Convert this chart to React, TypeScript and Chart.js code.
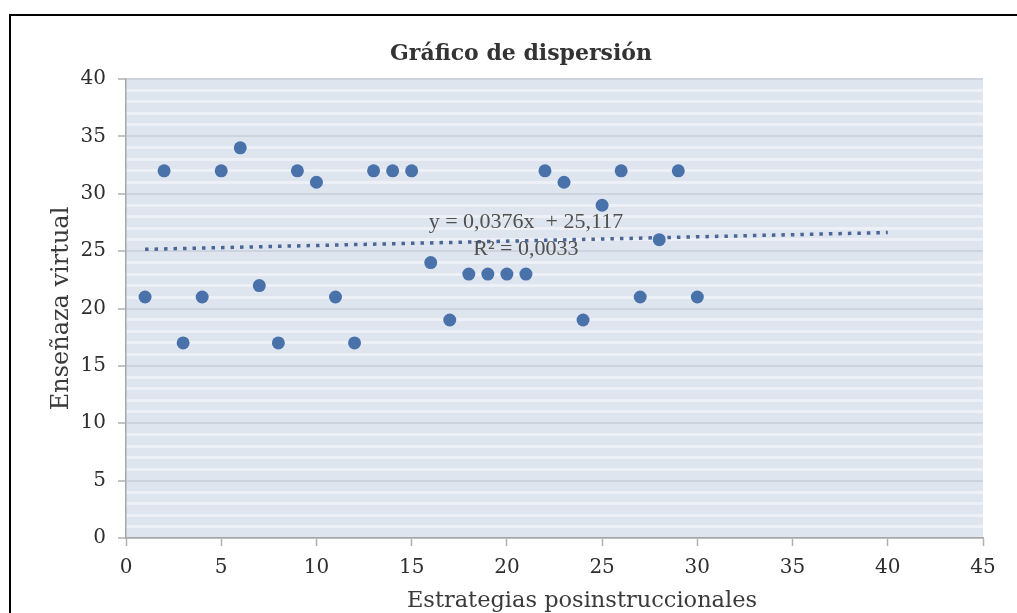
import React, { useEffect, useRef } from "react";
import { Chart, registerables } from "chart.js";

Chart.register(...registerables);

const xValues = [1, 2, 3, 4, 5, 6, 7, 8, 9, 10, 11, 12, 13, 14, 15, 16, 17, 18, 19, 20, 21, 22, 23, 24, 25, 26, 27, 28, 29, 30];
const yValues = [21, 32, 17, 21, 32, 34, 22, 17, 32, 31, 21, 17, 32, 32, 32, 24, 19, 23, 23, 23, 23, 32, 31, 19, 29, 32, 21, 26, 32, 21];
const trendX = [1, 40];
const trendY = [25.155, 26.621];
const chartTitle = "Gráfico de dispersión";
const xTitle = "Estrategias posinstruccionales";
const yTitle = "Enseñaza virtual";
const equationLines = ["y = 0,0376x  + 25,117", "R² = 0,0033"];

export default function App() {
  const ref = useRef<HTMLCanvasElement | null>(null);
  useEffect(() => {
    const canvas = ref.current;
    if (!canvas) return;
    const deco = {
      id: "deco",
      beforeDraw(chart: any) {
        const { ctx, chartArea } = chart;
        ctx.save();
        ctx.fillStyle = "#ffffff";
        ctx.fillRect(0, 0, chart.width, chart.height);
        ctx.fillStyle = "#dfe5ef";
        ctx.fillRect(chartArea.left, chartArea.top, chartArea.right - chartArea.left, chartArea.bottom - chartArea.top);
        ctx.strokeStyle = "#000000";
        ctx.lineWidth = 2;
        ctx.beginPath();
        ctx.moveTo(10, chart.height + 5);
        ctx.lineTo(10, 15);
        ctx.lineTo(chart.width + 5, 15);
        ctx.stroke();
        ctx.restore();
      },
      afterDraw(chart: any) {
        const { ctx, chartArea, scales } = chart;
        ctx.save();
        ctx.fillStyle = "#333333";
        ctx.textAlign = "center";
        ctx.textBaseline = "middle";
        ctx.font = "bold 22px 'DejaVu Serif'";
        ctx.fillText(chartTitle, 521, 54);
        ctx.fillStyle = "#3a3a3a";
        ctx.font = "22.5px 'DejaVu Serif'";
        ctx.fillText(xTitle, 582, 601);
        ctx.save();
        ctx.translate(62, (chartArea.top + chartArea.bottom) / 2);
        ctx.rotate(-Math.PI / 2);
        ctx.font = "24px 'DejaVu Serif'";
        ctx.fillText(yTitle, 0, 0);
        ctx.restore();
        ctx.fillStyle = "#505050";
        ctx.font = "22px 'Liberation Serif'";
        const ex = scales.x.getPixelForValue(21.0);
        ctx.fillText(equationLines[0], ex, scales.y.getPixelForValue(27.5));
        ctx.fillText(equationLines[1], ex, scales.y.getPixelForValue(25.2));
        ctx.restore();
      },
    };
    const chart = new Chart(canvas, {
      type: "scatter",
      data: {
        datasets: [
          {
            type: "scatter",
            data: xValues.map((x, i) => ({ x, y: yValues[i] })),
            backgroundColor: "#4a72aa",
            borderWidth: 0,
            pointRadius: 6.5,
            order: 1,
          },
          {
            type: "line",
            data: trendX.map((x, i) => ({ x, y: trendY[i] })),
            borderColor: "#4a6696",
            borderWidth: 3.5,
            borderDash: [3.5, 6],
            pointRadius: 0,
            fill: false,
            order: 2,
          } as any,
        ],
      },
      options: {
        animation: false,
        responsive: false,
        devicePixelRatio: 1,
        layout: { padding: { top: 79, left: 0, right: 34, bottom: 0 } },
        plugins: { legend: { display: false }, tooltip: { enabled: false }, title: { display: false } },
        scales: {
          x: {
            type: "linear",
            min: 0,
            max: 45,
            afterFit: (s: any) => { s.height = 75; },
            ticks: { stepSize: 5, color: "#2e2e2e", font: { family: "'DejaVu Serif'", size: 20 }, padding: 10, maxRotation: 0 },
            grid: { drawOnChartArea: false, tickLength: 8, tickColor: "#b0b0b0", tickWidth: 1.5 },
            border: { color: "#a8a8a8", width: 1.5 },
          },
          y: {
            type: "linear",
            min: 0,
            max: 40,
            afterFit: (s: any) => { s.width = 126; },
            ticks: {
              stepSize: 1,
              autoSkip: false,
              color: "#2e2e2e",
              font: { family: "'DejaVu Serif'", size: 20 },
              padding: 12,
              callback: (v: any) => (Number(v) % 5 === 0 ? String(v) : ""),
            },
            grid: {
              color: (c: any) => (c.tick && c.tick.value % 5 === 0 ? "#cdd4df" : "#edf1f7"),
              lineWidth: (c: any) => (c.tick && c.tick.value % 5 === 0 ? 2 : 3),
              tickColor: (c: any) => (c.tick && c.tick.value % 5 === 0 ? "#b0b0b0" : "rgba(0,0,0,0)"),
              tickLength: 8,
              tickWidth: 1.5,
            },
            border: { color: "#a8a8a8", width: 1.5 },
          },
        },
      },
      plugins: [deco],
    } as any);
    return () => chart.destroy();
  }, []);
  return (
    <div style={{ position: "absolute", left: 0, top: 0, width: 1017, height: 613, overflow: "hidden" }}>
      <canvas ref={ref} width={1017} height={613} style={{ display: "block", width: 1017, height: 613 }} />
    </div>
  );
}
